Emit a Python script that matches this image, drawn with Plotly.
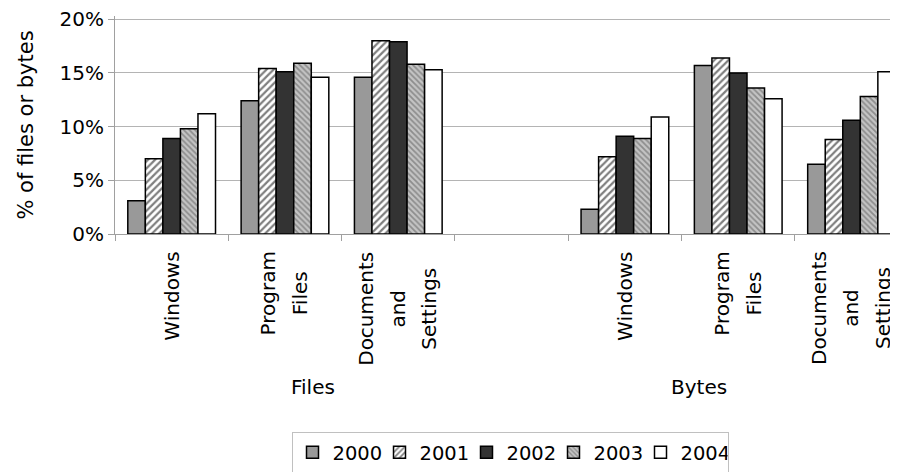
import plotly.graph_objects as go

categories = ["Windows", "Program<br>Files", "Documents<br>and<br>Settings", "",
              "Windows", "Program<br>Files", "Documents<br>and<br>Settings"]
groups = ["Files", "Bytes"]
group_centers = [1.25, 4.65]
years = ["2000", "2001", "2002", "2003", "2004"]

v2000 = [3.1, 12.4, 14.6, None, 2.3, 15.7, 6.5]
v2001 = [7.0, 15.4, 18.0, None, 7.2, 16.4, 8.8]
v2002 = [8.9, 15.1, 17.9, None, 9.1, 15.0, 10.6]
v2003 = [9.8, 15.9, 15.8, None, 8.9, 13.6, 12.8]
v2004 = [11.2, 14.6, 15.3, None, 10.9, 12.6, 15.1]
series = [v2000, v2001, v2002, v2003, v2004]

fills = ["#999999", "#ffffff", "#333333", "#b4b4b4", "#ffffff"]
patterns = [
    dict(shape=""),
    dict(shape="/", fgcolor="#000000", bgcolor="#ffffff", size=5, solidity=0.45),
    dict(shape=""),
    dict(shape="\\", fgcolor="#555555", bgcolor="#c4c4c4", size=4, solidity=0.45),
    dict(shape=""),
]

FONT = "DejaVu Sans, Liberation Sans, Arial, sans-serif"
x = list(range(len(categories)))

fig = go.Figure()
for yr, vals, col, pat in zip(years, series, fills, patterns):
    fig.add_trace(go.Bar(
        x=x, y=vals, name=yr,
        marker=dict(color=col, line=dict(color="#000000", width=1.5), pattern=pat),
    ))


def spaced(label):
    # larger base font gives wider line spacing; glyphs drawn at 20px
    return "<br>".join(f"<span style='font-size:20px'>{p}</span>" for p in label.split("<br>"))


annotations = []
for i, c in enumerate(categories):
    if c:
        annotations.append(dict(
            x=i, y=-0.071, xref="x", yref="paper", text=spaced(c), showarrow=False,
            textangle=-90, xanchor="center", yanchor="top", align="center",
            font=dict(family=FONT, size=24.5, color="#000000"),
        ))
for g, gc in zip(groups, group_centers):
    annotations.append(dict(
        x=gc, y=-0.70, xref="x", yref="paper", text=g, showarrow=False,
        xanchor="center", yanchor="middle",
        font=dict(family=FONT, size=20, color="#000000"),
    ))

fig.update_layout(
    width=898, height=472,
    margin=dict(l=107, r=8, t=8, b=245),
    plot_bgcolor="#ffffff", paper_bgcolor="#ffffff",
    barmode="group", bargap=0.226, bargroupgap=0,
    font=dict(family=FONT, size=20, color="#000000"),
    showlegend=True,
    legend=dict(
        orientation="h", x=(510 - 8 - 107) / 783, xanchor="center",
        y=-(424 - 227) / 219, yanchor="top",
        bordercolor="#c0c0c0", borderwidth=1, bgcolor="#ffffff",
        font=dict(family=FONT, size=19.5), itemwidth=30,
        traceorder="normal", entrywidth=42, entrywidthmode="pixels",
    ),
    annotations=annotations,
    xaxis=dict(
        range=[-0.5, 6.41], tickmode="array",
        tickvals=[i - 0.5 for i in range(len(categories) + 1)],
        ticktext=[""] * (len(categories) + 1),
        ticks="outside", ticklen=6, tickcolor="#a0a0a0", tickwidth=1,
        showgrid=False, showline=True, linecolor="#a0a0a0", linewidth=1,
        zeroline=False, automargin=False,
    ),
    yaxis=dict(
        range=[0, 20.3], tickvals=[0, 5, 10, 15, 20],
        ticktext=["0%", "5%", "10%", "15%", "20%"],
        ticks="outside", ticklen=6, tickcolor="#a0a0a0",
        showgrid=True, gridcolor="#b4b4b4", gridwidth=1,
        showline=True, linecolor="#a0a0a0", linewidth=1, zeroline=False,
        automargin=False, ticklabeloverflow="allow",
        title=dict(text="% of files or bytes", font=dict(family=FONT, size=21), standoff=20),
        tickfont=dict(family=FONT, size=20),
    ),
)

fig.write_html("out.html")
